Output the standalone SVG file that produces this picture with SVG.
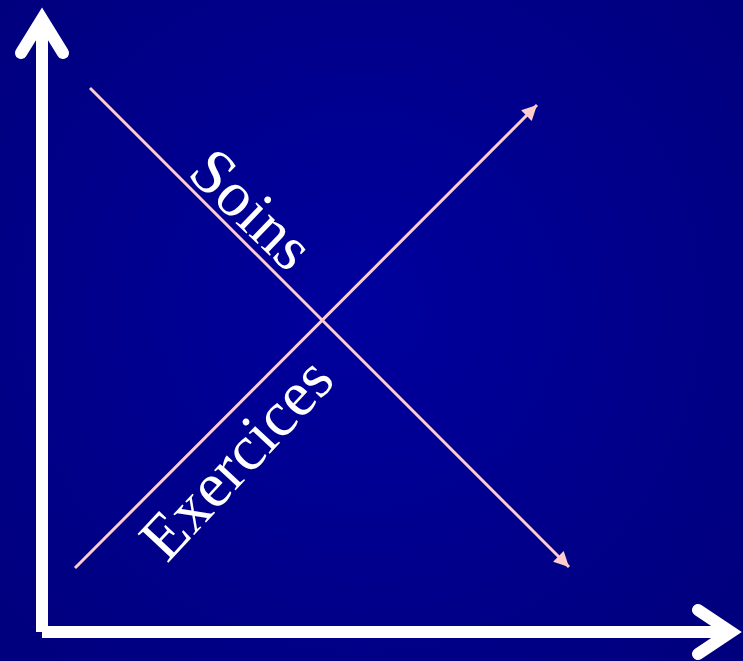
<svg xmlns="http://www.w3.org/2000/svg" width="743" height="661" viewBox="0 0 743 661">
<defs>
<radialGradient id="bg" cx="360" cy="310" r="480" gradientUnits="userSpaceOnUse">
<stop offset="0" stop-color="#00009E"/>
<stop offset="1" stop-color="#00007E"/>
</radialGradient>
<marker id="ah" viewBox="0 0 10 10" refX="10" refY="5" markerWidth="5.5" markerHeight="5" orient="auto" markerUnits="strokeWidth">
<path d="M0,0 L10,5 L0,10 z" fill="#FFCCCC"/>
</marker>
<style>
.axis{stroke:#FFFFFF;stroke-width:12;fill:none}
.head{stroke:#FFFFFF;stroke-width:12;fill:none;stroke-linecap:round;stroke-linejoin:miter}
.pink{stroke:#FFCCCC;stroke-width:3;fill:none}
.lbl{font-family:"Liberation Serif","Times New Roman",serif;font-size:64px;fill:#FFFFFF}
</style>
</defs>
<rect width="743" height="661" fill="url(#bg)"/>
<g id="axes">
<line class="axis" x1="42" y1="18" x2="42" y2="632"/>
<line class="axis" x1="42" y1="632" x2="732" y2="632"/>
<polyline class="head" points="21,53 42,19 63,53"/>
<polyline class="head" points="698,610 731,632 698,654"/>
</g>
<g id="connectors">
<line class="pink" x1="90" y1="88" x2="569" y2="567" marker-end="url(#ah)"/>
<line class="pink" x1="75" y1="568" x2="537" y2="105" marker-end="url(#ah)"/>
</g>
<g id="soins">
<text class="lbl" transform="translate(186,175) rotate(44)">Soins</text>
</g>
<g id="exercices">
<text class="lbl" transform="translate(167,564) rotate(-47)">Exercices</text>
</g>
</svg>
